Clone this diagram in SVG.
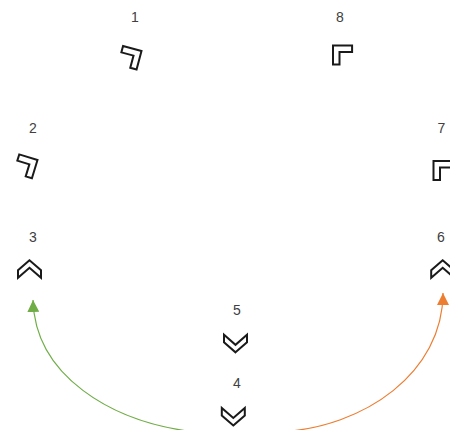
<svg xmlns="http://www.w3.org/2000/svg" xmlns:xlink="http://www.w3.org/1999/xlink" width="450" height="430" viewBox="0 0 450 430">
  <style>
    .chev { fill: #ffffff; stroke: #1a1a1a; stroke-width: 2; stroke-linejoin: miter; }
    .lbl { font-family: "Liberation Sans", Arial, sans-serif; font-size: 14px; fill: #404040; text-anchor: middle; }
    .conn { fill: none; stroke-width: 1.2; }
  </style>
  <defs>
    <polygon id="chev-up" points="0,0 -11.5,10 -11.5,17.5 0,7.5 11.5,17.5 11.5,10"/>
    <polygon id="chev-rot" points="0,0 -13.5,13.5 -8.9,18.1 0,9.2 8.9,18.1 13.5,13.5"/>
    <marker id="arrow-green" viewBox="0 0 12 12" refX="12" refY="6" markerWidth="12" markerHeight="12" markerUnits="userSpaceOnUse" orient="auto">
      <path d="M0,0 L12,6 L0,12 z" fill="#70AD47"/>
    </marker>
    <marker id="arrow-orange" viewBox="0 0 12 12" refX="12" refY="6" markerWidth="12" markerHeight="12" markerUnits="userSpaceOnUse" orient="auto">
      <path d="M0,0 L12,6 L0,12 z" fill="#ED7D31"/>
    </marker>
  </defs>
  <rect width="450" height="430" fill="#ffffff"/>

  <g id="connectors">
    <path class="conn" stroke="#70AD47" d="M195,432 C110,422 35,375 33,300" marker-end="url(#arrow-green)"/>
    <path class="conn" stroke="#ED7D31" d="M278,432 C365,428 443,372 443,293" marker-end="url(#arrow-orange)"/>
  </g>

  <g id="node1">
    <text class="lbl" x="135" y="22">1</text>
    <use xlink:href="#chev-rot" class="chev" transform="translate(141.5,51) rotate(60)"/>
  </g>
  <g id="node2">
    <text class="lbl" x="33" y="132.5">2</text>
    <use xlink:href="#chev-rot" class="chev" transform="translate(37.5,160) rotate(62)"/>
  </g>
  <g id="node3">
    <text class="lbl" x="33" y="242">3</text>
    <use xlink:href="#chev-up" class="chev" transform="translate(29.5,260.3)"/>
  </g>
  <g id="node4">
    <text class="lbl" x="237" y="388">4</text>
    <use xlink:href="#chev-up" class="chev" transform="translate(233.3,425.5) rotate(180)"/>
  </g>
  <g id="node5">
    <text class="lbl" x="237" y="315">5</text>
    <use xlink:href="#chev-up" class="chev" transform="translate(235.5,352.3) rotate(180)"/>
  </g>
  <g id="node6">
    <text class="lbl" x="441" y="242">6</text>
    <use xlink:href="#chev-up" class="chev" transform="translate(442.7,260.3)"/>
  </g>
  <g id="node7">
    <text class="lbl" x="441.5" y="132.5">7</text>
    <use xlink:href="#chev-rot" class="chev" transform="translate(433.5,161) rotate(-45)"/>
  </g>
  <g id="node8">
    <text class="lbl" x="340" y="22">8</text>
    <use xlink:href="#chev-rot" class="chev" transform="translate(333,45.5) rotate(-45)"/>
  </g>
</svg>
